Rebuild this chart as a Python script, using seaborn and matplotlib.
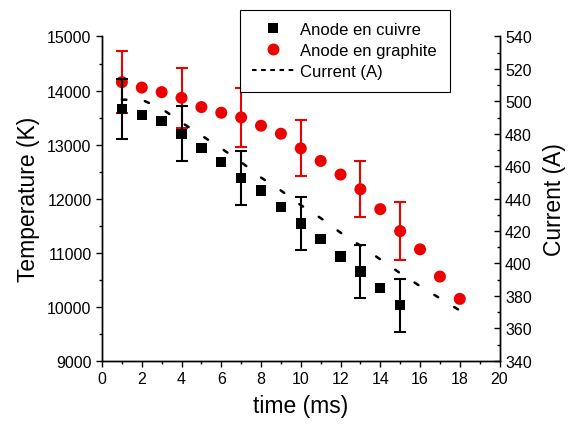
import matplotlib
matplotlib.use("Agg")
import matplotlib.pyplot as plt
from matplotlib.lines import Line2D
from matplotlib.ticker import MultipleLocator
import seaborn as sns
import pandas as pd

# Arc temperature for two anode materials and the arc current, versus time
time_cuivre = [1, 2, 3, 4, 5, 6, 7, 8, 9, 10, 11, 12, 13, 14, 15]
temp_cuivre = [13660, 13550, 13430, 13200, 12940, 12680, 12380, 12150,
               11840, 11540, 11250, 10930, 10650, 10340, 10030]

time_graphite = [1, 2, 3, 4, 5, 6, 7, 8, 9, 10, 11, 12, 13, 14, 15, 16, 17, 18]
temp_graphite = [14155, 14055, 13970, 13865, 13694, 13589, 13502, 13349, 13201,
                 12930, 12697, 12445, 12173, 11805, 11399, 11061, 10557, 10144]

err_times = [1, 4, 7, 10, 13, 15]
err_cuivre = [550, 510, 500, 495, 485, 490]
err_graphite = [570, 555, 545, 520, 520, 540]

time_current = [1, 2, 3, 4, 5, 6, 7, 8, 9, 10, 11, 12, 13, 14, 15, 16, 17, 18]
current_a = [501, 501, 495.5, 487, 479, 471, 462.5, 453, 445, 436,
             428, 419, 411, 402.5, 394, 386, 378.5, 371]

labels = ["Anode en cuivre", "Anode en graphite", "Current (A)"]

RED = "#ec0000"

sns.set_theme(style="ticks")
plt.rcParams["font.family"] = ["Liberation Sans", "DejaVu Sans"]
plt.rcParams["axes.linewidth"] = 1.0
for key in ("text.color", "axes.labelcolor", "xtick.color", "ytick.color",
            "axes.edgecolor"):
    plt.rcParams[key] = "black"

df_cu = pd.DataFrame({"t": time_cuivre, "T": temp_cuivre})
df_gr = pd.DataFrame({"t": time_graphite, "T": temp_graphite})
df_cur = pd.DataFrame({"t": time_current, "I": current_a})

fig = plt.figure(figsize=(5.69, 4.27), dpi=100)
ax = fig.add_axes([0.1793, 0.1529, 0.6986, 0.7593])

# graphite series (red) with error bars
gr_err_vals = [temp_graphite[time_graphite.index(t)] for t in err_times]
ax.errorbar(err_times, gr_err_vals, yerr=err_graphite, fmt="none",
            ecolor=RED, elinewidth=1.5, capsize=4, capthick=1.5, zorder=2)
sns.scatterplot(data=df_gr, x="t", y="T", ax=ax, marker="o", s=75,
                color=RED, edgecolor="none", zorder=3)

# copper series (black) with error bars
cu_err_vals = [temp_cuivre[time_cuivre.index(t)] for t in err_times]
ax.errorbar(err_times, cu_err_vals, yerr=err_cuivre, fmt="none",
            ecolor="black", elinewidth=1.5, capsize=4, capthick=1.5, zorder=4)
sns.scatterplot(data=df_cu, x="t", y="T", ax=ax, marker="s", s=55,
                color="black", edgecolor="none", zorder=5)

ax.set_xlim(0, 20)
ax.set_ylim(9000, 15000)
ax.xaxis.set_major_locator(MultipleLocator(2))
ax.xaxis.set_minor_locator(MultipleLocator(1))
ax.yaxis.set_major_locator(MultipleLocator(1000))
ax.yaxis.set_minor_locator(MultipleLocator(500))
ax.tick_params(axis="both", which="major", direction="out", length=4.5,
               width=1.0, labelsize=11.5, pad=3, colors="black")
ax.tick_params(axis="both", which="minor", direction="out", length=2.5,
               width=1.0, colors="black")
ax.set_xlabel("time (ms)", fontsize=16.5, labelpad=6)
ax.set_ylabel("Temperature (K)", fontsize=16.5, labelpad=5)
ax.spines["top"].set_visible(False)

# current on the right-hand axis
ax2 = ax.twinx()
sns.lineplot(data=df_cur, x="t", y="I", ax=ax2, color="black", linewidth=1.8)
for ln in ax2.get_lines():
    ln.set_linestyle((0, (1.8, 7.5)))
    ln.set_dash_capstyle("round")
ax2.set_ylim(340, 540)
ax2.yaxis.set_major_locator(MultipleLocator(20))
ax2.yaxis.set_minor_locator(MultipleLocator(10))
ax2.tick_params(axis="y", which="major", direction="in", length=4.5,
                width=1.0, labelsize=11.5, pad=4, colors="black")
ax2.tick_params(axis="y", which="minor", direction="in", length=2.5,
                width=1.0, colors="black")
ax2.set_ylabel("Current (A)", fontsize=16.5, labelpad=8)
ax2.spines["top"].set_visible(False)
ax2.set_xlabel("")

handles = [
    Line2D([], [], linestyle="none", marker="s", markersize=7.4,
           color="black", markeredgewidth=0),
    Line2D([], [], linestyle="none", marker="o", markersize=8.6,
           color=RED, markeredgewidth=0),
    Line2D([], [], color="black", linewidth=1.5, linestyle=(0, (2.2, 2.2))),
]
leg = fig.legend(handles, labels, loc="upper left",
                 bbox_to_anchor=(0.421, 0.975), fontsize=12,
                 frameon=True, fancybox=False, framealpha=1,
                 edgecolor="black", borderaxespad=0, borderpad=0.75,
                 handlelength=2.5, handletextpad=0.4, labelspacing=0.36)
leg.get_frame().set_linewidth(0.8)

fig.savefig("out.png", dpi=100)
